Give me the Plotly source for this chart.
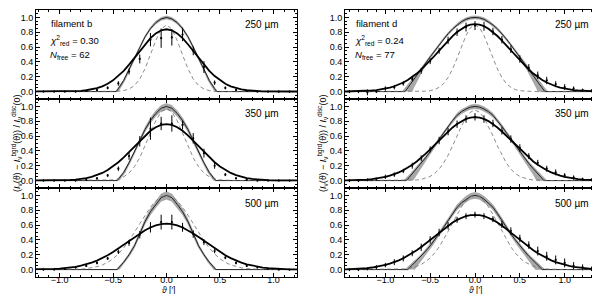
import plotly.graph_objects as go

# ---------------- data ----------------
# half-profile grid (profiles are symmetric about theta = 0)
X_HALF = [0.00, 0.05, 0.10, 0.15, 0.20, 0.25, 0.30, 0.35, 0.40, 0.45,
          0.50, 0.55, 0.60, 0.65, 0.70, 0.75, 0.80, 0.85, 0.90, 0.95,
          1.00, 1.05, 1.10, 1.15, 1.20, 1.25, 1.30, 1.35, 1.40, 1.45]

# fitted (convolved) profiles - thick black curves
FIT_B_250 = [0.840, 0.826, 0.784, 0.720, 0.638, 0.547, 0.453, 0.363, 0.280, 0.209,
             0.151, 0.105, 0.071, 0.046, 0.029, 0.018, 0.010, 0.006, 0.003, 0.002,
             0.001, 0.0, 0.0, 0.0, 0.0, 0.0, 0.0, 0.0, 0.0, 0.0]
FIT_B_350 = [0.760, 0.750, 0.719, 0.671, 0.609, 0.537, 0.461, 0.385, 0.312, 0.247,
             0.190, 0.142, 0.103, 0.073, 0.050, 0.033, 0.022, 0.014, 0.008, 0.005,
             0.003, 0.002, 0.001, 0.0, 0.0, 0.0, 0.0, 0.0, 0.0, 0.0]
FIT_B_500 = [0.620, 0.614, 0.597, 0.568, 0.531, 0.487, 0.438, 0.387, 0.334, 0.284,
             0.236, 0.193, 0.155, 0.121, 0.094, 0.071, 0.053, 0.038, 0.027, 0.019,
             0.013, 0.009, 0.006, 0.004, 0.003, 0.002, 0.001, 0.001, 0.0, 0.0]
FIT_D_250 = [0.910, 0.903, 0.882, 0.848, 0.803, 0.749, 0.687, 0.621, 0.552, 0.483,
             0.417, 0.354, 0.295, 0.243, 0.197, 0.157, 0.123, 0.095, 0.072, 0.054,
             0.040, 0.029, 0.021, 0.015, 0.010, 0.007, 0.005, 0.003, 0.002, 0.001]
FIT_D_350 = [0.855, 0.849, 0.831, 0.802, 0.763, 0.716, 0.662, 0.604, 0.543, 0.482,
             0.421, 0.363, 0.308, 0.258, 0.213, 0.174, 0.139, 0.110, 0.086, 0.066,
             0.050, 0.038, 0.028, 0.020, 0.014, 0.010, 0.007, 0.005, 0.003, 0.002]
FIT_D_500 = [0.740, 0.735, 0.722, 0.700, 0.670, 0.634, 0.593, 0.547, 0.498, 0.449,
             0.399, 0.351, 0.304, 0.261, 0.221, 0.185, 0.152, 0.124, 0.100, 0.080,
             0.063, 0.049, 0.037, 0.028, 0.021, 0.016, 0.011, 0.008, 0.006, 0.004]

# beam profiles - dashed grey curves
BEAM_B_250 = [0.900, 0.842, 0.689, 0.494, 0.310, 0.170, 0.082, 0.034, 0.013, 0.004,
              0.001, 0.0, 0.0, 0.0, 0.0, 0.0, 0.0, 0.0, 0.0, 0.0,
              0.0, 0.0, 0.0, 0.0, 0.0, 0.0, 0.0, 0.0, 0.0, 0.0]
BEAM_B_350 = [0.970, 0.926, 0.807, 0.642, 0.465, 0.308, 0.186, 0.102, 0.051, 0.024,
              0.010, 0.004, 0.001, 0.0, 0.0, 0.0, 0.0, 0.0, 0.0, 0.0,
              0.0, 0.0, 0.0, 0.0, 0.0, 0.0, 0.0, 0.0, 0.0, 0.0]
BEAM_B_500 = [1.000, 0.981, 0.926, 0.841, 0.735, 0.618, 0.501, 0.390, 0.292, 0.211,
              0.146, 0.098, 0.063, 0.039, 0.023, 0.013, 0.007, 0.004, 0.002, 0.001,
              0.0, 0.0, 0.0, 0.0, 0.0, 0.0, 0.0, 0.0, 0.0, 0.0]
BEAM_D_250 = [0.900, 0.862, 0.757, 0.610, 0.450, 0.305, 0.190, 0.108, 0.057, 0.027,
              0.012, 0.005, 0.002, 0.001, 0.0, 0.0, 0.0, 0.0, 0.0, 0.0,
              0.0, 0.0, 0.0, 0.0, 0.0, 0.0, 0.0, 0.0, 0.0, 0.0]
BEAM_D_350 = [0.950, 0.923, 0.848, 0.736, 0.604, 0.468, 0.342, 0.237, 0.155, 0.096,
              0.056, 0.031, 0.016, 0.008, 0.004, 0.002, 0.001, 0.0, 0.0, 0.0,
              0.0, 0.0, 0.0, 0.0, 0.0, 0.0, 0.0, 0.0, 0.0, 0.0]
BEAM_D_500 = [1.000, 0.982, 0.929, 0.847, 0.744, 0.630, 0.514, 0.404, 0.306, 0.224,
              0.157, 0.107, 0.070, 0.044, 0.027, 0.016, 0.009, 0.005, 0.002, 0.001,
              0.0, 0.0, 0.0, 0.0, 0.0, 0.0, 0.0, 0.0, 0.0, 0.0]

# intrinsic model profiles (thin black line inside grey band)
MODEL_B_250_X = [0.0, 0.05, 0.10, 0.15, 0.20, 0.25, 0.30, 0.35, 0.40, 0.45, 0.47]
MODEL_B_250_Y = [1.0, 0.98, 0.93, 0.85, 0.74, 0.60, 0.45, 0.30, 0.15, 0.04, 0.0]
MODEL_B_350_X = [0.0, 0.05, 0.10, 0.15, 0.20, 0.25, 0.30, 0.35, 0.40, 0.45, 0.46]
MODEL_B_350_Y = [1.0, 0.975, 0.905, 0.81, 0.69, 0.54, 0.38, 0.24, 0.11, 0.02, 0.0]
MODEL_B_500_X = [0.0, 0.05, 0.10, 0.15, 0.20, 0.25, 0.30, 0.35, 0.40, 0.45, 0.46]
MODEL_B_500_Y = [1.0, 0.97, 0.88, 0.78, 0.65, 0.48, 0.32, 0.20, 0.10, 0.02, 0.0]
MODEL_D_250_X = [0.0, 0.05, 0.10, 0.15, 0.20, 0.25, 0.30, 0.35, 0.40, 0.45,
                 0.50, 0.55, 0.60, 0.65, 0.70, 0.75, 0.78]
MODEL_D_250_Y = [1.0, 0.994, 0.975, 0.943, 0.90, 0.845, 0.78, 0.71, 0.63, 0.55,
                 0.47, 0.385, 0.30, 0.215, 0.13, 0.05, 0.0]
MODEL_D_350_X = [0.0, 0.05, 0.10, 0.15, 0.20, 0.25, 0.30, 0.35, 0.40, 0.45,
                 0.50, 0.55, 0.60, 0.65, 0.70, 0.75, 0.77]
MODEL_D_350_Y = [1.0, 0.991, 0.965, 0.93, 0.88, 0.81, 0.73, 0.645, 0.56, 0.475,
                 0.39, 0.31, 0.23, 0.16, 0.09, 0.02, 0.0]
MODEL_D_500_X = [0.0, 0.05, 0.10, 0.15, 0.20, 0.25, 0.30, 0.35, 0.40, 0.45,
                 0.50, 0.55, 0.60, 0.65, 0.70, 0.75]
MODEL_D_500_Y = [1.0, 0.987, 0.95, 0.90, 0.84, 0.755, 0.66, 0.57, 0.48, 0.40,
                 0.32, 0.25, 0.18, 0.12, 0.06, 0.0]

# relative half-width of grey uncertainty band at the peak
BAND_B = [0.02, 0.04, 0.05]
BAND_D = [0.02, 0.03, 0.04]
# relative spread of the model's outer radius (fan at the foot of the band)
FOOT_SPREAD = [0.04, 0.10]

# observed profiles with error bars
DATA_B_X = [-1.15, -1.05, -0.95, -0.85, -0.75, -0.65, -0.55, -0.45, -0.35, -0.25, -0.15, -0.05,
            0.05, 0.15, 0.25, 0.35, 0.45, 0.55, 0.65, 0.75, 0.85, 0.95, 1.05, 1.15]
DATA_B_250_Y = [0.0, 0.0, 0.0, 0.0, 0.01, 0.02, 0.05, 0.11, 0.27, 0.44, 0.70, 0.72,
                0.73, 0.77, 0.55, 0.33, 0.12, 0.05, 0.02, 0.01, 0.0, 0.0, 0.0, 0.0]
DATA_B_250_E = [0.01, 0.01, 0.01, 0.01, 0.01, 0.015, 0.02, 0.03, 0.04, 0.06, 0.09, 0.13,
                0.11, 0.09, 0.06, 0.08, 0.03, 0.02, 0.015, 0.01, 0.01, 0.01, 0.01, 0.01]
DATA_B_350_Y = [0.0, 0.0, 0.0, 0.0, 0.01, 0.03, 0.07, 0.16, 0.33, 0.53, 0.70, 0.77,
                0.77, 0.75, 0.57, 0.37, 0.20, 0.08, 0.03, 0.01, 0.0, 0.0, 0.0, 0.0]
DATA_B_350_E = [0.01, 0.01, 0.01, 0.01, 0.01, 0.015, 0.02, 0.03, 0.05, 0.07, 0.15, 0.09,
                0.11, 0.06, 0.07, 0.06, 0.04, 0.02, 0.015, 0.01, 0.01, 0.01, 0.01, 0.01]
DATA_B_500_Y = [0.0, 0.0, 0.01, 0.03, 0.05, 0.09, 0.15, 0.24, 0.36, 0.47, 0.57, 0.64,
                0.64, 0.57, 0.48, 0.37, 0.25, 0.16, 0.09, 0.05, 0.03, 0.01, 0.0, 0.0]
DATA_B_500_E = [0.01, 0.01, 0.01, 0.015, 0.015, 0.02, 0.02, 0.03, 0.04, 0.05, 0.07, 0.10,
                0.10, 0.06, 0.05, 0.04, 0.03, 0.02, 0.02, 0.015, 0.015, 0.01, 0.01, 0.01]

DATA_D_X = [-1.4, -1.3, -1.2, -1.1, -1.0, -0.9, -0.8, -0.7, -0.6, -0.5, -0.4, -0.3, -0.2, -0.1, 0.0,
            0.1, 0.2, 0.3, 0.4, 0.5, 0.6, 0.7, 0.8, 0.9, 1.0, 1.1, 1.2, 1.3, 1.4]
DATA_D_250_Y = [0.0, 0.0, -0.01, 0.0, 0.04, 0.06, 0.11, 0.17, 0.28, 0.41, 0.55, 0.69, 0.80, 0.87, 0.89,
                0.88, 0.81, 0.70, 0.57, 0.44, 0.32, 0.22, 0.15, 0.10, 0.06, 0.04, 0.02, 0.01, 0.0]
DATA_D_250_E = [0.02, 0.02, 0.04, 0.02, 0.03, 0.03, 0.03, 0.03, 0.04, 0.04, 0.04, 0.05, 0.05, 0.06, 0.06,
                0.06, 0.05, 0.05, 0.05, 0.05, 0.05, 0.05, 0.05, 0.04, 0.04, 0.03, 0.02, 0.02, 0.02]
DATA_D_350_Y = [0.0, 0.0, 0.01, 0.02, 0.05, 0.08, 0.13, 0.20, 0.30, 0.42, 0.54, 0.66, 0.76, 0.83, 0.86,
                0.83, 0.77, 0.67, 0.56, 0.44, 0.33, 0.24, 0.16, 0.11, 0.07, 0.04, 0.02, 0.01, 0.0]
DATA_D_350_E = [0.02, 0.02, 0.02, 0.02, 0.03, 0.03, 0.03, 0.04, 0.04, 0.04, 0.05, 0.05, 0.05, 0.05, 0.05,
                0.05, 0.05, 0.05, 0.05, 0.05, 0.04, 0.04, 0.04, 0.04, 0.03, 0.03, 0.02, 0.02, 0.02]
DATA_D_500_Y = [0.0, 0.0, 0.01, 0.03, 0.06, 0.10, 0.15, 0.22, 0.30, 0.40, 0.50, 0.59, 0.67, 0.72, 0.74,
                0.72, 0.68, 0.61, 0.52, 0.42, 0.33, 0.25, 0.18, 0.13, 0.09, 0.05, 0.03, 0.01, 0.0]
DATA_D_500_E = [0.02, 0.02, 0.02, 0.03, 0.03, 0.04, 0.04, 0.04, 0.05, 0.05, 0.05, 0.05, 0.04, 0.04, 0.04,
                0.04, 0.04, 0.05, 0.05, 0.05, 0.05, 0.06, 0.06, 0.06, 0.06, 0.05, 0.04, 0.03, 0.02]

WAVELENGTHS = ["250 µm", "350 µm", "500 µm"]
FILAMENTS = ["filament b", "filament d"]
CHI2 = ["0.30", "0.24"]
NFREE = ["62", "77"]
X_RANGES = [[-1.22, 1.22], [-1.45, 1.45]]
Y_RANGE = [-0.1, 1.1]

# ---------------- layout geometry ----------------
W, H = 600, 294
FONT = "Liberation Sans, Arial, Helvetica, sans-serif"


def fx(p):
    return p / W


def fy(p):
    return 1 - p / H


COL_DOM = [[fx(28), fx(289)], [fx(337), fx(597)]]
ROW_EDGES = [2, 91.0, 180.0, 269]
ROW_DOM = [[fy(ROW_EDGES[i + 1]), fy(ROW_EDGES[i])] for i in range(3)]


def mirror(xh, yh):
    xs = [-v for v in reversed(xh)] + list(xh[1:])
    ys = list(reversed(yh)) + list(yh[1:])
    return xs, ys


panels = [
    (0, 0, FIT_B_250, BEAM_B_250, MODEL_B_250_X, MODEL_B_250_Y, BAND_B[0], DATA_B_X, DATA_B_250_Y, DATA_B_250_E),
    (0, 1, FIT_B_350, BEAM_B_350, MODEL_B_350_X, MODEL_B_350_Y, BAND_B[1], DATA_B_X, DATA_B_350_Y, DATA_B_350_E),
    (0, 2, FIT_B_500, BEAM_B_500, MODEL_B_500_X, MODEL_B_500_Y, BAND_B[2], DATA_B_X, DATA_B_500_Y, DATA_B_500_E),
    (1, 0, FIT_D_250, BEAM_D_250, MODEL_D_250_X, MODEL_D_250_Y, BAND_D[0], DATA_D_X, DATA_D_250_Y, DATA_D_250_E),
    (1, 1, FIT_D_350, BEAM_D_350, MODEL_D_350_X, MODEL_D_350_Y, BAND_D[1], DATA_D_X, DATA_D_350_Y, DATA_D_350_E),
    (1, 2, FIT_D_500, BEAM_D_500, MODEL_D_500_X, MODEL_D_500_Y, BAND_D[2], DATA_D_X, DATA_D_500_Y, DATA_D_500_E),
]

fig = go.Figure()
layout_axes = {}
annotations = []

for k, (col, row, fit, beam, mx, my, band, dx, dy, de) in enumerate(panels, start=1):
    xa = "x" if k == 1 else f"x{k}"
    ya = "y" if k == 1 else f"y{k}"
    xmax = X_RANGES[col][1] + 0.1
    s = FOOT_SPREAD[col]

    # grey uncertainty band around the model (wide only at peak and at the foot)
    ux, uy = mirror([v * (1 + 0.4 * s * (1 - w) ** 3) for v, w in zip(mx, my)],
                    [w * (1 + band) for w in my])
    lx, ly = mirror([v * (1 - s * (1 - w) ** 3) for v, w in zip(mx, my)],
                    [w * (1 - band) for w in my])
    fig.add_trace(go.Scatter(x=ux + lx[::-1], y=uy + ly[::-1], xaxis=xa, yaxis=ya,
                             mode="lines", fill="toself", fillcolor="#a8a8a8",
                             line=dict(width=0.5, color="#909090"), hoverinfo="skip"))
    # model line
    mxs, mys = mirror(mx, my)
    fig.add_trace(go.Scatter(x=[-xmax] + mxs + [xmax], y=[0.0] + mys + [0.0], xaxis=xa, yaxis=ya,
                             mode="lines", line=dict(color="#222222", width=1.0), hoverinfo="skip"))
    # beam (dashed)
    bx, by = mirror(X_HALF, beam)
    fig.add_trace(go.Scatter(x=bx, y=by, xaxis=xa, yaxis=ya, mode="lines",
                             line=dict(color="#6e6e6e", width=0.8, dash="4px,3px"), hoverinfo="skip"))
    # fitted profile
    fxs, fys = mirror(X_HALF, fit)
    fig.add_trace(go.Scatter(x=fxs, y=fys, xaxis=xa, yaxis=ya, mode="lines",
                             line=dict(color="black", width=1.8), hoverinfo="skip"))
    # data with error bars
    fig.add_trace(go.Scatter(x=dx, y=dy, xaxis=xa, yaxis=ya, mode="markers",
                             marker=dict(color="black", size=2.2),
                             error_y=dict(type="data", array=de, visible=True, color="black",
                                          thickness=1, width=0),
                             hoverinfo="skip"))

    axis_common = dict(showline=True, linecolor="black", linewidth=1, mirror="allticks",
                       ticks="inside", ticklen=4, tickwidth=1, tickcolor="black",
                       showgrid=False, zeroline=False,
                       tickfont=dict(family=FONT, size=9, color="black"))
    key_x = "xaxis" if k == 1 else f"xaxis{k}"
    key_y = "yaxis" if k == 1 else f"yaxis{k}"
    layout_axes[key_x] = dict(axis_common, domain=COL_DOM[col], range=X_RANGES[col], anchor=ya,
                              tickvals=[-1.0, -0.5, 0.0, 0.5, 1.0], tickformat=".1f",
                              ticklabelstandoff=-6,
                              minor=dict(ticks="inside", ticklen=2, dtick=0.1, tick0=0,
                                         tickcolor="black"),
                              showticklabels=(row == 2))
    layout_axes[key_y] = dict(axis_common, domain=ROW_DOM[row], range=Y_RANGE, anchor=xa,
                              tickvals=[0.0, 0.2, 0.4, 0.6, 0.8, 1.0], tickformat=".1f",
                              minor=dict(ticks="inside", ticklen=2, dtick=0.05, tick0=0,
                                         tickcolor="black"))

    # wavelength label
    right_px = 273 if col == 0 else 583
    annotations.append(dict(x=fx(right_px), y=fy(ROW_EDGES[row] + 15), xref="paper", yref="paper",
                            text=WAVELENGTHS[row], showarrow=False, xanchor="right", yanchor="middle",
                            font=dict(family=FONT, size=10, color="black")))

for col in range(2):
    left_px = 41 if col == 0 else 346
    annotations.append(dict(x=fx(left_px), y=fy(16), xref="paper", yref="paper",
                            text=FILAMENTS[col], showarrow=False, xanchor="left", yanchor="middle",
                            font=dict(family=FONT, size=9.5, color="black")))
    annotations.append(dict(x=fx(left_px - 1), y=fy(32), xref="paper", yref="paper",
                            text=f"<i>χ</i><sup>2</sup><sub>red</sub> = {CHI2[col]}", showarrow=False,
                            xanchor="left", yanchor="middle",
                            font=dict(family=FONT, size=9.5, color="black")))
    annotations.append(dict(x=fx(left_px - 1), y=fy(47), xref="paper", yref="paper",
                            text=f"<i>N</i><sub>free</sub> = {NFREE[col]}", showarrow=False,
                            xanchor="left", yanchor="middle",
                            font=dict(family=FONT, size=9.5, color="black")))
    cx = 160 if col == 0 else 467
    annotations.append(dict(x=fx(cx), y=fy(282), xref="paper", yref="paper",
                            text="<i>ϑ</i> [′]", showarrow=False, xanchor="center", yanchor="middle",
                            font=dict(family=FONT, size=8.5, color="black")))
    tx = 8 if col == 0 else 314
    annotations.append(dict(x=fx(tx), y=fy(136), xref="paper", yref="paper",
                            text="(<i>I</i><sub>ν</sub>(ϑ) − <i>I</i><sub>ν</sub><sup>bgrd</sup>(ϑ)) / "
                                 "<i>I</i><sub>ν</sub><sup>disc</sup>(0)",
                            showarrow=False, textangle=-90, xanchor="center", yanchor="middle",
                            font=dict(family=FONT, size=9, color="black")))

fig.update_layout(width=W, height=H, margin=dict(l=0, r=0, t=0, b=0),
                  paper_bgcolor="white", plot_bgcolor="white", showlegend=False,
                  annotations=annotations, **layout_axes)

fig.write_html("out.html")
